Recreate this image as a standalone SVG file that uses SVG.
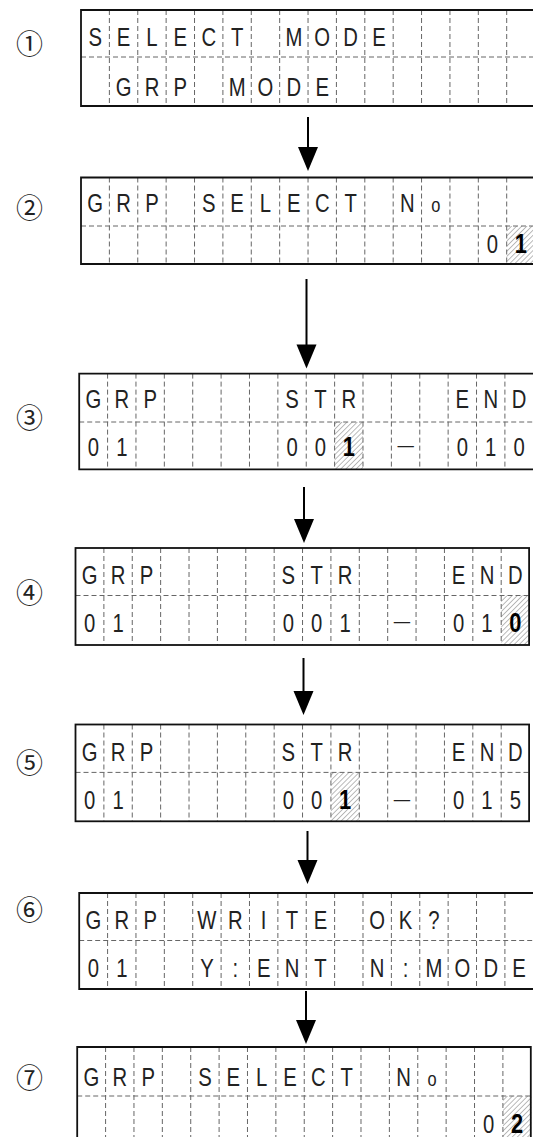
<svg xmlns="http://www.w3.org/2000/svg" width="533" height="1137" viewBox="0 0 533 1137">
<style>
.frame{fill:none;stroke:#111;stroke-width:1.8}
.dash{fill:none;stroke:#666;stroke-width:1;stroke-dasharray:5 3}
.t{font-family:"Liberation Sans",Arial,sans-serif;font-size:26px;fill:#222;text-anchor:middle}
.b{font-weight:bold;font-size:28px;fill:#000}
.o{font-size:21px}
.m{font-size:21px}
.num{font-family:"Noto Sans CJK JP","DejaVu Sans",sans-serif;font-size:27px;text-anchor:middle;dominant-baseline:central;fill:#222}
.conn line{stroke:#000;stroke-width:2}
.conn polygon{fill:#000}
</style>
<defs>
<pattern id="hatch" patternUnits="userSpaceOnUse" width="3.6" height="3.6" patternTransform="rotate(45)">
<line x1="0" y1="0" x2="0" y2="3.6" stroke="#555" stroke-width="0.8"/>
</pattern>
</defs>
<rect width="533" height="1137" fill="#fff"/>

<g id="step1">
<text class="num" x="29.5" y="42">①</text>
<g id="panel1" transform="translate(81 10)">
<path class="dash" d="M0 47H460M28.38 0V96M56.76 0V96M85.14 0V96M113.52 0V96M141.9 0V96M170.28 0V96M198.66 0V96M227.04 0V96M255.42 0V96M283.8 0V96M312.18 0V96M340.56 0V96M368.94 0V96M397.32 0V96M425.7 0V96"/>
<path class="frame" d="M460 0H0V96H460"/>
<g transform="scale(0.78 1)">
<text class="t" x="18.19 54.58 90.96 127.35 163.73 200.12 236.50 272.89 309.27 345.66 382.04" y="36.5">SELECT MODE</text>
<text class="t" x="54.58 90.96 127.35 163.73 200.12 236.50 272.89 309.27" y="86">GRP MODE</text>
</g>
</g>
</g>

<g id="step2">
<text class="num" x="29.5" y="206.5">②</text>
<g id="panel2" transform="translate(81 177.5)">
<rect x="425.7" y="48.5" width="28.38" height="38" fill="url(#hatch)"/>
<path class="dash" d="M0 48.5H460M28.38 0V86.5M56.76 0V86.5M85.14 0V86.5M113.52 0V86.5M141.9 0V86.5M170.28 0V86.5M198.66 0V86.5M227.04 0V86.5M255.42 0V86.5M283.8 0V86.5M312.18 0V86.5M340.56 0V86.5M368.94 0V86.5M397.32 0V86.5M425.7 0V86.5"/>
<path class="frame" d="M460 0H0V86.5H460"/>
<g transform="scale(0.78 1)">
<text class="t" x="18.19 54.58 90.96 127.35 163.73 200.12 236.50 272.89 309.27 345.66 382.04 418.43 454.81" y="35">GRP SELECT N<tspan class="o">o</tspan></text>
<text class="t" x="527.58 563.97" y="75.5">0<tspan class="b">1</tspan></text>
</g>
</g>
</g>

<g id="step3">
<text class="num" x="29.5" y="416">③</text>
<g id="panel3" transform="translate(79.2 373.6)">
<rect x="255.42" y="48.4" width="28.38" height="47.4" fill="url(#hatch)"/>
<path class="dash" d="M0 48.4H460M28.38 0V95.8M56.76 0V95.8M85.14 0V95.8M113.52 0V95.8M141.9 0V95.8M170.28 0V95.8M198.66 0V95.8M227.04 0V95.8M255.42 0V95.8M283.8 0V95.8M312.18 0V95.8M340.56 0V95.8M368.94 0V95.8M397.32 0V95.8M425.7 0V95.8"/>
<path class="frame" d="M460 0H0V95.8H460"/>
<g transform="scale(0.78 1)">
<text class="t" x="18.19 54.58 90.96" y="34.4">GRP</text>
<text class="t" x="272.89 309.27 345.66" y="34.4">STR</text>
<text class="t" x="491.20 527.58 563.97" y="34.4">END</text>
<text class="t" x="18.19 54.58" y="82.4">01</text>
<text class="t" x="272.89 309.27 345.66" y="82.4">00<tspan class="b">1</tspan></text>
<text class="t m" x="418.43" y="78.9">—</text>
<text class="t" x="491.20 527.58 563.97" y="82.4">010</text>
</g>
</g>
</g>

<g id="step4">
<text class="num" x="29.5" y="591">④</text>
<g id="panel4" transform="translate(75.5 548)">
<rect x="425.7" y="47.5" width="28.38" height="49.5" fill="url(#hatch)"/>
<path class="dash" d="M0 47.5H453.6M28.38 0V97M56.76 0V97M85.14 0V97M113.52 0V97M141.9 0V97M170.28 0V97M198.66 0V97M227.04 0V97M255.42 0V97M283.8 0V97M312.18 0V97M340.56 0V97M368.94 0V97M397.32 0V97M425.7 0V97"/>
<rect class="frame" x="0" y="0" width="453.6" height="97"/>
<g transform="scale(0.78 1)">
<text class="t" x="18.19 54.58 90.96" y="36.5">GRP</text>
<text class="t" x="272.89 309.27 345.66" y="36.5">STR</text>
<text class="t" x="491.20 527.58 563.97" y="36.5">END</text>
<text class="t" x="18.19 54.58" y="84">01</text>
<text class="t" x="272.89 309.27 345.66" y="84">001</text>
<text class="t m" x="418.43" y="80.5">—</text>
<text class="t" x="491.20 527.58 563.97" y="84">01<tspan class="b">0</tspan></text>
</g>
</g>
</g>

<g id="step5">
<text class="num" x="29.5" y="761">⑤</text>
<g id="panel5" transform="translate(75.5 724.5)">
<rect x="255.42" y="47.9" width="28.38" height="48.9" fill="url(#hatch)"/>
<path class="dash" d="M0 47.9H453.6M28.38 0V96.8M56.76 0V96.8M85.14 0V96.8M113.52 0V96.8M141.9 0V96.8M170.28 0V96.8M198.66 0V96.8M227.04 0V96.8M255.42 0V96.8M283.8 0V96.8M312.18 0V96.8M340.56 0V96.8M368.94 0V96.8M397.32 0V96.8M425.7 0V96.8"/>
<rect class="frame" x="0" y="0" width="453.6" height="96.8"/>
<g transform="scale(0.78 1)">
<text class="t" x="18.19 54.58 90.96" y="36.5">GRP</text>
<text class="t" x="272.89 309.27 345.66" y="36.5">STR</text>
<text class="t" x="491.20 527.58 563.97" y="36.5">END</text>
<text class="t" x="18.19 54.58" y="84.9">01</text>
<text class="t" x="272.89 309.27 345.66" y="84.9">00<tspan class="b">1</tspan></text>
<text class="t m" x="418.43" y="81.4">—</text>
<text class="t" x="491.20 527.58 563.97" y="84.9">015</text>
</g>
</g>
</g>

<g id="step6">
<text class="num" x="29.5" y="908">⑥</text>
<g id="panel6" transform="translate(79.2 893)">
<path class="dash" d="M0 47.5H460M28.38 0V96M56.76 0V96M85.14 0V96M113.52 0V96M141.9 0V96M170.28 0V96M198.66 0V96M227.04 0V96M255.42 0V96M283.8 0V96M312.18 0V96M340.56 0V96M368.94 0V96M397.32 0V96M425.7 0V96"/>
<path class="frame" d="M460 0H0V96H460"/>
<g transform="scale(0.78 1)">
<text class="t" x="18.19 54.58 90.96" y="35.6">GRP</text>
<text class="t" x="163.73 200.12 236.50 272.89 309.27" y="35.6">WRITE</text>
<text class="t" x="382.04 418.43 454.81" y="35.6">OK?</text>
<text class="t" x="18.19 54.58" y="84">01</text>
<text class="t" x="163.73 200.12 236.50 272.89 309.27" y="84">Y:ENT</text>
<text class="t" x="382.04 418.43 454.81 491.20 527.58 563.97" y="84">N:MODE</text>
</g>
</g>
</g>

<g id="step7">
<text class="num" x="29.5" y="1076">⑦</text>
<g id="panel7" transform="translate(77.2 1047)">
<rect x="425.7" y="49" width="28.38" height="60" fill="url(#hatch)"/>
<path class="dash" d="M0 49H453.6M28.38 0V100M56.76 0V100M85.14 0V100M113.52 0V100M141.9 0V100M170.28 0V100M198.66 0V100M227.04 0V100M255.42 0V100M283.8 0V100M312.18 0V100M340.56 0V100M368.94 0V100M397.32 0V100M425.7 0V100"/>
<path class="frame" d="M0 100V0H453.6V100"/>
<g transform="scale(0.78 1)">
<text class="t" x="18.19 54.58 90.96 127.35 163.73 200.12 236.50 272.89 309.27 345.66 382.04 418.43 454.81" y="38.6">GRP SELECT N<tspan class="o">o</tspan></text>
<text class="t" x="527.58 563.97" y="86.5">0<tspan class="b">2</tspan></text>
</g>
</g>
</g>

<g id="connectors" class="conn">
<line x1="308" y1="117" x2="308" y2="150"/><polygon points="298,147 318,147 308,171"/>
<line x1="306.5" y1="279" x2="306.5" y2="348"/><polygon points="296.5,344.5 316.5,344.5 306.5,368.5"/>
<line x1="304" y1="487" x2="304" y2="522"/><polygon points="294,519 314,519 304,543"/>
<line x1="303.5" y1="658" x2="303.5" y2="694"/><polygon points="293.5,691 313.5,691 303.5,715"/>
<line x1="307.5" y1="831" x2="307.5" y2="863"/><polygon points="297.5,860 317.5,860 307.5,884"/>
<line x1="306" y1="991" x2="306" y2="1023"/><polygon points="296,1020 316,1020 306,1044"/>
</g>
</svg>
